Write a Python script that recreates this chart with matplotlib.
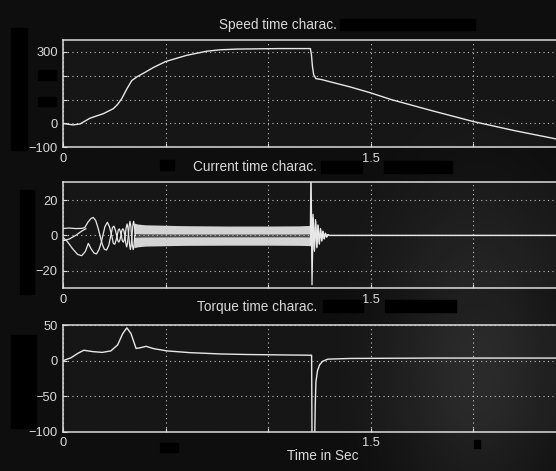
import numpy as np
import matplotlib
matplotlib.use('Agg')
import matplotlib.pyplot as plt
from matplotlib.patches import Rectangle

plt.rcParams['font.family'] = ['Liberation Sans', 'DejaVu Sans']

# ---- data ----
# speed (rad/s)
speed_t = [0, 0.02, 0.049, 0.082, 0.13, 0.195, 0.244, 0.265, 0.285, 0.31, 0.334, 0.36, 0.4,
           0.44, 0.5, 0.603, 0.70, 0.765, 0.85, 0.95, 1.05, 1.15, 1.205, 1.21, 1.215, 1.221,
           1.232, 1.26, 1.3, 1.4, 1.5, 1.6, 1.8, 2.0, 2.2, 2.41]
speed_v = [0, -3, -6, -2, 22, 41, 62, 80, 104, 145, 180, 196, 215,
           235, 260, 286, 303, 309, 312, 313, 314, 314, 314, 290, 240, 205,
           188, 184, 175, 153, 128, 100, 53, 8, -30, -66]

# current: early lobes (two main traces + one short start trace)
cur_t_a = [0, 0.03, 0.06, 0.09, 0.105, 0.12, 0.135, 0.146, 0.158, 0.17, 0.179, 0.19, 0.2,
           0.211, 0.222, 0.232, 0.24, 0.247, 0.254, 0.26, 0.266, 0.271, 0.276, 0.281, 0.286,
           0.291, 0.296, 0.3, 0.304, 0.309, 0.313, 0.317, 0.321, 0.325, 0.329, 0.333, 0.337,
           0.341, 0.345, 0.349]
cur_a = [4.0, 4.2, 3.9, 4.0, 4.5, 7.5, 9.6, 10.2, 8.5, 4.0, 0, -5, -7.8,
         -8.3, -5.5, 0, 4.5, 5.3, 3.0, 0, -3.0, -3.8, -2.5, 0, 3.0,
         3.8, 2.5, 0, -4.0, -6.5, -4.5, 0, 5.0, 8.0, 5.5, 0, -5.5,
         -8.0, -5.5, 0]
cur_t_b = [0, 0.02, 0.045, 0.07, 0.09, 0.108, 0.122, 0.135, 0.15, 0.162, 0.174, 0.185, 0.193,
           0.203, 0.215, 0.225, 0.236, 0.244, 0.251, 0.258, 0.263, 0.268, 0.273, 0.278, 0.283,
           0.288, 0.293, 0.298, 0.302, 0.306, 0.311, 0.315, 0.319, 0.323, 0.327, 0.331, 0.335,
           0.339, 0.343, 0.347, 0.351]
cur_b = [-1.3, -3.5, -7.5, -10.8, -11.5, -9.0, -4.5, -7.5, -10.0, -10.5, -8.0, -4.0, 0,
         5.0, 7.5, 5.0, 0, -4.5, -5.0, -2.5, 0, 3.0, 3.7, 2.3, 0,
         -3.0, -3.8, -2.3, 0, 4.0, 6.5, 4.5, 0, -5.0, -8.0, -5.5, 0,
         5.5, 8.0, 5.5, 0]
cur_t_c = [0, 0.03, 0.06, 0.09, 0.11]
cur_c = [-3.0, -2.0, 0, 2.5, 3.8]

# current: steady band (envelope of the fast oscillation)
band_t = [0.345, 0.36, 0.40, 0.60, 0.80, 1.00, 1.15, 1.207]
band_hi = [7.0, 6.5, 6.0, 5.5, 5.3, 5.3, 5.4, 5.7]
band_lo = [-7.0, -6.5, -6.0, -5.6, -5.5, -5.5, -5.6, -5.8]
band_hi_in = [1.2, 1.0, 0.9, 0.8, 0.8, 0.8, 0.8, 0.9]
band_lo_in = [-1.2, -1.0, -0.9, -0.8, -0.8, -0.8, -0.8, -0.9]

# current: transient after the load change
tr_t_a = [1.205, 1.208, 1.212, 1.218, 1.224, 1.230, 1.236, 1.242, 1.248, 1.254, 1.26, 1.266,
          1.272, 1.278, 1.284, 1.29, 1.296, 2.41]
tr_a = [5, 40, -5, 12, -8, 9, -6.5, 6, -4.5, 4, -3, 2.5, -1.8, 1.3, -0.8, 0.5, 0, 0]
tr_t_b = [1.205, 1.209, 1.213, 1.219, 1.225, 1.231, 1.237, 1.243, 1.249, 1.255, 1.261, 1.267,
          1.273, 1.279, 1.285, 1.291, 1.297, 2.41]
tr_b = [-5, 19, -28, 10, -9, 8, -7, 5.5, -5, 3.5, -3.2, 2.2, -2, 1.2, -1, 0.4, 0, 0]

# torque
torque_t = [0, 0.038, 0.07, 0.10, 0.143, 0.19, 0.232, 0.265, 0.29, 0.31, 0.33, 0.355, 0.375,
            0.404, 0.44, 0.505, 0.615, 0.765, 0.9, 1.05, 1.211, 1.213, 1.226, 1.229, 1.232,
            1.24, 1.25, 1.265, 1.29, 1.4, 1.8, 2.41]
torque_v = [0, 4, 10, 14.5, 12.6, 11.5, 13.6, 22, 38, 46, 38, 17, 18,
            20, 16.8, 13.6, 11.2, 9.3, 8.5, 8, 7.5, -110, -110, -60, -30,
            -14, -6, -1, 2, 3, 3.5, 3.5]

xticks = [0, 0.5, 1, 1.5, 2]
xlabels = ['0', '', '', '1.5', '']

W, H = 556, 471
FG = '#e8e8e8'
TXT = '#dadada'

fig = plt.figure(figsize=(W / 100, H / 100), dpi=100, facecolor='#0e0e0e')


def px_box(x0, y0, x1, y1):
    fig.add_artist(Rectangle((x0 / W, 1 - y1 / H), (x1 - x0) / W, (y1 - y0) / H,
                             transform=fig.transFigure, color='black', zorder=30))


def setup(ax, ylim, yticks, ylabels):
    ax.set_facecolor('#161616')
    ax.set_xlim(0, 2.403)
    ax.set_ylim(*ylim)
    ax.set_xticks(xticks)
    ax.set_xticklabels(xlabels)
    ax.set_yticks(yticks)
    ax.set_yticklabels(ylabels)
    ax.grid(True, color='#bdbdbd', linestyle=(0, (1, 3)), linewidth=0.8)
    for s in ['top', 'left', 'bottom']:
        ax.spines[s].set_color('#dcdcdc')
        ax.spines[s].set_linewidth(1.1)
    ax.spines['right'].set_visible(False)
    ax.tick_params(colors='#dcdcdc', labelcolor=TXT, direction='in', length=3,
                   labelsize=9.3, pad=4)


left = 63.3 / W
ax1 = fig.add_axes([left, 1 - 147.3 / H, 1 - left, 107.3 / H])
ax2 = fig.add_axes([left, 1 - 288.3 / H, 1 - left, 106.6 / H])
ax3 = fig.add_axes([left, 1 - 431.7 / H, 1 - left, 106.7 / H])

setup(ax1, (-100, 350), [-100, 0, 100, 200, 300], ['\u2212100', '0', '', '', '300'])
setup(ax2, (-30, 30.5), [-20, 0, 20], ['\u221220', '0', '20'])
setup(ax3, (-100, 50), [-100, -50, 0, 50], ['\u2212100', '\u221250', '0', '50'])

ax1.plot(speed_t, speed_v, color=FG, lw=1.0)

ax2.fill_between(band_t, band_lo, band_hi, color='#4e4e4e', lw=0)
ax2.fill_between(band_t, band_hi_in, band_hi, color='#d4d4d4', lw=0)
ax2.fill_between(band_t, band_lo, band_lo_in, color='#d4d4d4', lw=0)
ax2.plot(cur_t_a, cur_a, color=FG, lw=0.9)
ax2.plot(cur_t_b, cur_b, color=FG, lw=0.9)
ax2.plot(cur_t_c, cur_c, color=FG, lw=0.9)
ax2.plot(tr_t_a, tr_a, color=FG, lw=0.9)
ax2.plot(tr_t_b, tr_b, color=FG, lw=0.9)

ax3.plot(torque_t, torque_v, color=FG, lw=1.0)

# titles (the rest of each title is blacked out in the photo)
fig.text(219 / W, 1 - 25 / H, 'Speed time charac.', ha='left', va='center', fontsize=9.8, color=TXT)
fig.text(193 / W, 1 - 167 / H, 'Current time charac.', ha='left', va='center', fontsize=9.8, color=TXT)
fig.text(197 / W, 1 - 307 / H, 'Torque time charac.', ha='left', va='center', fontsize=9.8, color=TXT)
fig.text(323 / W, 1 - 456 / H, 'Time in Sec', ha='center', va='center', fontsize=9.8, color=TXT)

# faint camera glare in the lower right of the photo
glare_ax = fig.add_axes([0, 0, 1, 1], zorder=20)
glare_ax.axis('off')
gy, gx = np.mgrid[0:1:200j, 0:1:240j]
glow = np.exp(-(((gx - 0.86) / 0.16) ** 2 + ((gy - 0.78) / 0.35) ** 2))
rgba = np.ones((200, 240, 4))
rgba[..., 3] = 0.09 * glow
glare_ax.imshow(rgba, extent=(0, 1, 1, 0), aspect='auto')
glare_ax.set_xlim(0, 1)
glare_ax.set_ylim(1, 0)

# redaction boxes (drawn last, on top)
px_box(340, 19, 475, 30)
px_box(321, 161, 362, 173)
px_box(384, 161, 452, 173)
px_box(323, 300, 363, 312)
px_box(385, 300, 456, 312)
px_box(11, 28, 27, 150)
px_box(20, 190, 34, 294)
px_box(11, 335, 36, 428)
px_box(38, 70, 56, 80)
px_box(38, 97, 56, 106)
px_box(160, 160, 174, 170)
px_box(160, 443, 178, 452)
px_box(474, 440, 480, 448)

fig.savefig('out.png', dpi=100, facecolor=fig.get_facecolor())
